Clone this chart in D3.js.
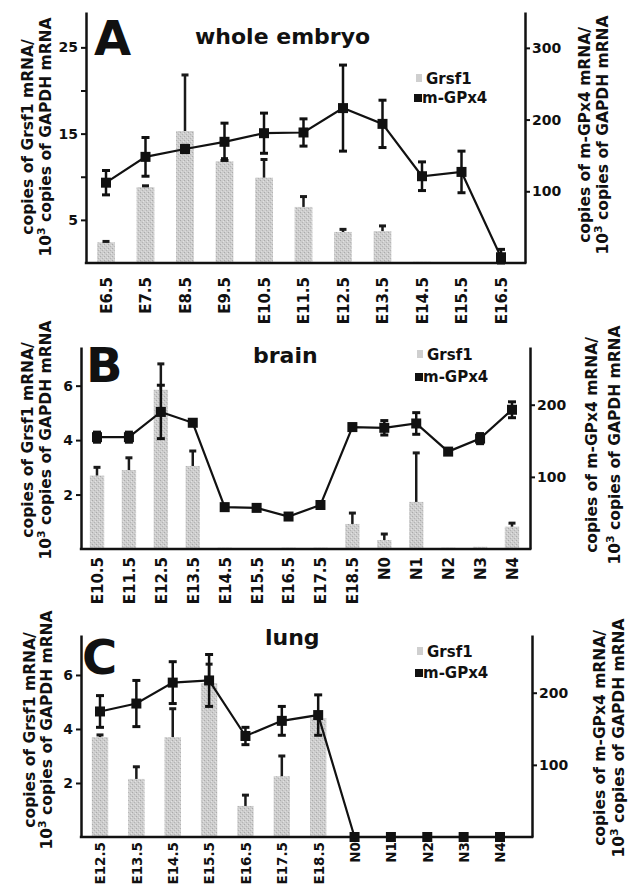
<!DOCTYPE html>
<html>
<head>
<meta charset="utf-8">
<script src="https://cdn.jsdelivr.net/npm/d3@7"></script>
<style>
  body { margin: 0; background: #fff; }
  text { font-family: 'DejaVu Sans', sans-serif; font-weight: bold; }
</style>
</head>
<body>
<div id="chart"></div>
<script>
'use strict'

// Panel A - whole embryo
const catsA = ['E6.5', 'E7.5', 'E8.5', 'E9.5', 'E10.5', 'E11.5', 'E12.5', 'E13.5', 'E14.5', 'E15.5', 'E16.5']
const grsfA = [2.4, 8.8, 15.3, 11.8, 9.9, 6.5, 3.6, 3.7, 0.15, 0.05, 0]
const grsfErrA = [0.1, 0.15, 6.5, 0.3, 2.1, 1.2, 0.3, 0.6, 0, 0, 0]
const gpxA = [112, 148, 159, 169, 181, 182, 216, 194, 121, 127, 8]
const gpxErrA = [17, 27, 5, 26, 28, 19, 60, 33, 20, 29, 11]

// Panel B - brain
const catsB = ['E10.5', 'E11.5', 'E12.5', 'E13.5', 'E14.5', 'E15.5', 'E16.5', 'E17.5', 'E18.5', 'N0', 'N1', 'N2', 'N3', 'N4']
const grsfB = [2.7, 2.9, 5.85, 3.05, 0.05, 0.03, 0.05, 0.05, 0.92, 0.33, 1.73, 0.05, 0.08, 0.82]
const grsfErrB = [0.3, 0.45, 0.95, 0.55, 0, 0, 0, 0, 0.4, 0.22, 1.8, 0, 0, 0.13]
const gpxB = [155, 155, 190, 175, 58, 57, 45, 61, 169, 168, 174, 135, 153, 193]
const gpxErrB = [7, 7, 37, 4, 4, 3, 4, 3, 4, 10, 15, 3, 7, 11]

// Panel C - lung
const catsC = ['E12.5', 'E13.5', 'E14.5', 'E15.5', 'E16.5', 'E17.5', 'E18.5', 'N0', 'N1', 'N2', 'N3', 'N4']
const grsfC = [3.7, 2.15, 3.7, 5.7, 1.15, 2.25, 4.4, 0, 0, 0, 0, 0]
const grsfErrC = [0.08, 0.45, 1.05, 0.7, 0.4, 0.75, 0, 0, 0, 0, 0, 0]
const gpxC = [174, 185, 214, 217, 140, 161, 169, 0, 0, 0, 0, 0]
const gpxErrC = [22, 32, 29, 36, 12, 20, 28, 0, 0, 0, 0, 0]

// Tick values
const leftTicksA = [5, 10, 15, 20, 25]
const leftLabelsA = [5, 15, 25]
const rightTicksA = [100, 200, 300]
const leftTicksBC = [2, 4, 6]
const rightTicksBC = [100, 200]

const seriesNames = ['Grsf1', 'm-GPx4']
const leftTitle = ['copies of Grsf1 mRNA/', 'copies of GAPDH mRNA']
const rightTitle = ['copies of m-GPx4 mRNA/', 'copies of GAPDH mRNA']

const svg = d3
  .select('#chart')
  .append('svg')
  .attr('width', 636)
  .attr('height', 888)

// stippled grey fill for the bars
const defs = svg.append('defs')
const pat = defs
  .append('pattern')
  .attr('id', 'stipple')
  .attr('width', 4)
  .attr('height', 4)
  .attr('patternUnits', 'userSpaceOnUse')
pat.append('rect').attr('width', 4).attr('height', 4).attr('fill', '#cdcdcd')
pat.append('rect').attr('x', 0).attr('y', 0).attr('width', 1).attr('height', 1).attr('fill', '#aaaaaa')
pat.append('rect').attr('x', 2).attr('y', 2).attr('width', 1).attr('height', 1).attr('fill', '#b4b4b4')
pat.append('rect').attr('x', 3).attr('y', 1).attr('width', 1).attr('height', 1).attr('fill', '#e2e2e2')
pat.append('rect').attr('x', 1).attr('y', 3).attr('width', 1).attr('height', 1).attr('fill', '#dcdcdc')

function drawPanel(p) {
  const g = svg.append('g')

  const x = d3.scalePoint().domain(p.cats).range([p.first, p.last])
  const yL = d3.scaleLinear().domain([0, p.leftMax]).range([p.bottom, p.top])
  const yR = d3.scaleLinear().domain([0, p.rightMax]).range([p.bottom, p.top])
  const barW = x.step() * 0.45

  // bars
  g.selectAll('rect.bar')
    .data(p.grsf)
    .join('rect')
    .attr('class', 'bar')
    .attr('x', (d, i) => x(p.cats[i]) - barW / 2)
    .attr('y', (d) => yL(d))
    .attr('width', barW)
    .attr('height', (d) => p.bottom - yL(d))
    .attr('fill', 'url(#stipple)')

  // Grsf1 error (upper only)
  p.grsf.forEach((d, i) => {
    const e = p.grsfErr[i]
    if (!e) return
    const cx = x(p.cats[i])
    g.append('line')
      .attr('x1', cx).attr('x2', cx)
      .attr('y1', yL(d)).attr('y2', yL(d + e))
      .attr('stroke', '#1a1a1a').attr('stroke-width', 2.5)
    g.append('line')
      .attr('x1', cx - 3.5).attr('x2', cx + 3.5)
      .attr('y1', yL(d + e)).attr('y2', yL(d + e))
      .attr('stroke', '#1a1a1a').attr('stroke-width', 3)
  })

  // m-GPx4 line
  const line = d3
    .line()
    .x((d, i) => x(p.cats[i]))
    .y((d) => yR(d))
  g.append('path')
    .datum(p.gpx)
    .attr('d', line)
    .attr('fill', 'none')
    .attr('stroke', '#111')
    .attr('stroke-width', 2.2)

  // m-GPx4 error bars
  p.gpx.forEach((d, i) => {
    const e = p.gpxErr[i]
    if (!e) return
    const cx = x(p.cats[i])
    const lo = Math.max(0, d - e)
    g.append('line')
      .attr('x1', cx).attr('x2', cx)
      .attr('y1', yR(lo)).attr('y2', yR(d + e))
      .attr('stroke', '#111').attr('stroke-width', 2.5)
    ;[lo, d + e].forEach((v) => {
      g.append('line')
        .attr('x1', cx - 4).attr('x2', cx + 4)
        .attr('y1', yR(v)).attr('y2', yR(v))
        .attr('stroke', '#111').attr('stroke-width', 3)
    })
  })

  // m-GPx4 markers
  g.selectAll('rect.pt')
    .data(p.gpx)
    .join('rect')
    .attr('class', 'pt')
    .attr('x', (d, i) => x(p.cats[i]) - 5)
    .attr('y', (d) => yR(d) - 5)
    .attr('width', 10)
    .attr('height', 10)
    .attr('fill', '#111')

  // left axis
  const leftAxis = d3
    .axisLeft(yL)
    .tickValues(p.leftTicks)
    .tickFormat((d) => (p.leftLabels.includes(d) ? d : ''))
    .tickSize(5)
    .tickSizeOuter(0)
    .tickPadding(3)
  const la = g.append('g').attr('transform', `translate(${p.x0},0)`).call(leftAxis)

  // right axis
  const rightAxis = d3
    .axisRight(yR)
    .tickValues(p.rightTicks)
    .tickSize(5)
    .tickSizeOuter(0)
    .tickPadding(2)
  const ra = g.append('g').attr('transform', `translate(${p.x1},0)`).call(rightAxis)

  ;[la, ra].forEach((a) => {
    a.attr('font-family', null).attr('font-size', null)
    a.select('.domain').attr('stroke', '#111').attr('stroke-width', 2.5)
    a.selectAll('.tick line').attr('stroke', '#111').attr('stroke-width', 2)
    a.selectAll('.tick text').attr('fill', '#111').style('font-size', '14px')
  })

  // bottom axis
  g.append('line')
    .attr('x1', p.x0 - 1.2).attr('x2', p.x1 + 1.2)
    .attr('y1', p.bottom).attr('y2', p.bottom)
    .attr('stroke', '#111').attr('stroke-width', 2.5)
  const xa = g
    .append('g')
    .attr('transform', `translate(0,${p.bottom})`)
    .call(d3.axisBottom(x).tickSize(0))
  xa.attr('font-family', null).attr('font-size', null)
  xa.select('.domain').remove()
  xa.selectAll('.tick text')
    .attr('transform', 'rotate(-90)')
    .attr('x', -p.labelGap)
    .attr('y', 0)
    .attr('dy', '0.36em')
    .attr('text-anchor', 'end')
    .attr('fill', '#111')
    .style('font-size', p.labelSize)

  // panel letter and title
  g.append('text')
    .attr('x', p.letterX).attr('y', p.letterY)
    .style('font-size', '48px')
    .attr('fill', '#111')
    .text(p.letter)
  g.append('text')
    .attr('x', p.titleX).attr('y', p.titleY)
    .style('font-size', '22px')
    .attr('fill', '#111')
    .text(p.title)

  // legend
  const lg = g.append('g')
  lg.append('rect')
    .attr('x', p.legX + 2).attr('y', p.legY - 10)
    .attr('width', 6).attr('height', 8)
    .attr('fill', '#cfcfcf')
  lg.append('text')
    .attr('x', p.legX + 12).attr('y', p.legY)
    .style('font-size', '15px')
    .attr('fill', '#111')
    .text(seriesNames[0])
  lg.append('rect')
    .attr('x', p.legX).attr('y', p.legY + p.legGap - 9)
    .attr('width', 8).attr('height', 8)
    .attr('fill', '#111')
  lg.append('text')
    .attr('x', p.legX + 8).attr('y', p.legY + p.legGap)
    .style('font-size', '15px')
    .attr('fill', '#111')
    .text(seriesNames[1])

  // axis titles
  const axisTitle = (lines, bx, cy) => {
    lines.forEach((t, i) => {
      const tx = g
        .append('text')
        .attr('transform', `translate(${bx[i]},${cy}) rotate(-90)`)
        .attr('text-anchor', 'middle')
        .style('font-size', '15.5px')
        .attr('fill', '#111')
      if (i === 1) {
        tx.append('tspan').text('10')
        tx.append('tspan').attr('dy', -6).style('font-size', '11px').text('3')
        tx.append('tspan').attr('dy', 6).text(' ' + t)
      } else {
        tx.text(t)
      }
    })
  }
  axisTitle(leftTitle, p.leftTitleX, p.leftTitleY)
  axisTitle(rightTitle, p.rightTitleX, p.rightTitleY)
}

drawPanel({
  cats: catsA, grsf: grsfA, grsfErr: grsfErrA, gpx: gpxA, gpxErr: gpxErrA,
  x0: 86, x1: 525, top: 12, bottom: 263, first: 106, last: 501,
  leftMax: 29.1, rightMax: 350,
  leftTicks: leftTicksA, leftLabels: leftLabelsA, rightTicks: rightTicksA,
  labelGap: 14, labelSize: '15px',
  letter: 'A', letterX: 94, letterY: 55,
  title: 'whole embryo', titleX: 195, titleY: 44,
  legX: 414, legY: 84, legGap: 19,
  leftTitleX: [33, 51], leftTitleY: 137,
  rightTitleX: [590, 608], rightTitleY: 135,
})

drawPanel({
  cats: catsB, grsf: grsfB, grsfErr: grsfErrB, gpx: gpxB, gpxErr: gpxErrB,
  x0: 81, x1: 530, top: 347, bottom: 549, first: 97, last: 512,
  leftMax: 7.42, rightMax: 280,
  leftTicks: leftTicksBC, leftLabels: leftTicksBC, rightTicks: rightTicksBC,
  labelGap: 8, labelSize: '15px',
  letter: 'B', letterX: 86, letterY: 382,
  title: 'brain', titleX: 253, titleY: 363,
  legX: 415, legY: 360, legGap: 22,
  leftTitleX: [33, 51], leftTitleY: 440,
  rightTitleX: [597, 620], rightTitleY: 445,
})

drawPanel({
  cats: catsC, grsf: grsfC, grsfErr: grsfErrC, gpx: gpxC, gpxErr: gpxErrC,
  x0: 81, x1: 532, top: 635, bottom: 837, first: 100, last: 500,
  leftMax: 7.48, rightMax: 280,
  leftTicks: leftTicksBC, leftLabels: leftTicksBC, rightTicks: rightTicksBC,
  labelGap: 5, labelSize: '13.5px',
  letter: 'C', letterX: 82, letterY: 674,
  title: 'lung', titleX: 265, titleY: 645,
  legX: 415, legY: 657, legGap: 21,
  leftTitleX: [35, 52], leftTitleY: 730,
  rightTitleX: [605, 624], rightTitleY: 738,
})
</script>
</body>
</html>
